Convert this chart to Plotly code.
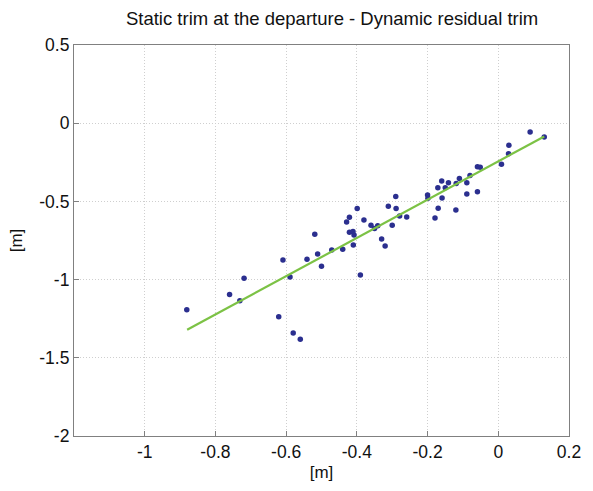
import plotly.graph_objects as go

x_static = [-0.881, -0.719, -0.760, -0.731, -0.609, -0.589, -0.541, -0.621, -0.580, -0.560,
            -0.511, -0.500, -0.519, -0.471, -0.440, -0.410, -0.421, -0.411, -0.408, -0.429,
            -0.421, -0.399, -0.380, -0.390, -0.360, -0.350, -0.341, -0.330, -0.320, -0.311,
            -0.290, -0.289, -0.300, -0.279, -0.259, -0.200, -0.199, -0.179, -0.170, -0.159,
            -0.171, -0.160, -0.150, -0.141, -0.120, -0.119, -0.110, -0.089, -0.089, -0.080,
            -0.059, -0.051, -0.059, 0.009, 0.029, 0.030, 0.090, 0.130]
y_dynamic = [-1.192, -0.991, -1.095, -1.136, -0.874, -0.983, -0.870, -1.238, -1.341, -1.381,
             -0.837, -0.914, -0.710, -0.810, -0.806, -0.779, -0.698, -0.693, -0.715, -0.631,
             -0.602, -0.546, -0.619, -0.970, -0.652, -0.673, -0.656, -0.741, -0.785, -0.531,
             -0.469, -0.546, -0.652, -0.594, -0.600, -0.459, -0.480, -0.606, -0.544, -0.478,
             -0.413, -0.369, -0.413, -0.380, -0.555, -0.386, -0.353, -0.380, -0.453, -0.335,
             -0.279, -0.282, -0.438, -0.262, -0.195, -0.141, -0.056, -0.089]

fit_x = [-0.88, 0.13]
fit_y = [-1.321, -0.085]

x_ticks = [-1, -0.8, -0.6, -0.4, -0.2, 0, 0.2]
x_tick_labels = ["-1", "-0.8", "-0.6", "-0.4", "-0.2", "0", "0.2"]
y_ticks = [0.5, 0, -0.5, -1, -1.5, -2]
y_tick_labels = ["0.5", "0", "-0.5", "-1", "-1.5", "-2"]

font_family = "Liberation Sans, Arial, sans-serif"

fig = go.Figure()
fig.add_trace(go.Scatter(x=x_static, y=y_dynamic, mode="markers",
                         marker=dict(color="#2b2f8f", size=5.5), showlegend=False))
fig.add_trace(go.Scatter(x=fit_x, y=fit_y, mode="lines",
                         line=dict(color="#7cc245", width=2.2), showlegend=False))

axis_common = dict(
    showline=True, linecolor="#808080", linewidth=1.2, mirror=True,
    ticks="inside", ticklen=5, tickcolor="#808080",
    showgrid=True, gridcolor="#cfcfcf", griddash="1px,2px", gridwidth=1,
    zeroline=False, tickfont=dict(family=font_family, size=17.5, color="#111111"),
)

fig.update_layout(
    width=593, height=491,
    margin=dict(l=74, r=15, t=45, b=46),
    paper_bgcolor="white", plot_bgcolor="white",
    title=dict(text="Static trim at the departure - Dynamic residual trim",
               x=0.56, xanchor="center", y=0.962, yanchor="middle",
               font=dict(family=font_family, size=18.5, color="#111111")),
    font=dict(family=font_family),
)
fig.update_xaxes(range=[-1.2, 0.2], tickvals=x_ticks, ticktext=x_tick_labels,
                 title=dict(text="[m]", standoff=5, font=dict(family=font_family, size=17, color="#111111")),
                 **axis_common)
fig.update_yaxes(range=[-2, 0.5], tickvals=y_ticks, ticktext=y_tick_labels,
                 title=dict(text="[m]", standoff=12, font=dict(family=font_family, size=17, color="#111111")),
                 **axis_common)

fig.write_html("out.html")
